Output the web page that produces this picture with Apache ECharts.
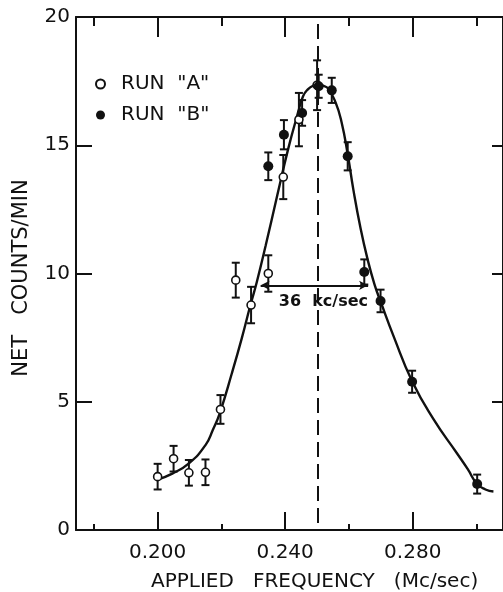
<!DOCTYPE html>
<html>
<head>
<meta charset="utf-8">
<script src="https://cdn.jsdelivr.net/npm/echarts@6/dist/echarts.min.js"></script>
<style>
  html, body { margin: 0; padding: 0; background: #fff; }
  #chart { width: 503px; height: 592px; }
</style>
</head>
<body>
<div id="chart"></div>
<script>
// run "A" (open circles): frequency, counts, error
const runAFreq = [0.2000, 0.2050, 0.2098, 0.2150, 0.2197, 0.2245, 0.2293, 0.2347, 0.2394, 0.2443, 0.2500];
const runACounts = [2.08, 2.78, 2.23, 2.25, 4.70, 9.74, 8.77, 10.00, 13.76, 16.00, 17.34];
const runAErr = [0.50, 0.50, 0.50, 0.50, 0.56, 0.68, 0.71, 0.71, 0.86, 1.04, 0.97];

// run "B" (filled circles)
const runBFreq = [0.2347, 0.2396, 0.2453, 0.2505, 0.2546, 0.2596, 0.2648, 0.2699, 0.2798, 0.3002];
const runBCounts = [14.18, 15.41, 16.26, 17.30, 17.14, 14.57, 10.06, 8.93, 5.78, 1.79];
const runBErr = [0.54, 0.57, 0.50, 0.45, 0.49, 0.55, 0.49, 0.44, 0.43, 0.37];

// fitted curve
const curveFreq = [0.1996, 0.2046, 0.2099, 0.2150, 0.2173, 0.2195, 0.2233, 0.2264, 0.2291, 0.2310, 0.2339,
  0.2375, 0.2409, 0.2440, 0.2456, 0.2471, 0.2487, 0.2503, 0.2518, 0.2534, 0.2558, 0.2577,
  0.2596, 0.2614, 0.2636, 0.2658, 0.2680, 0.2700, 0.2741, 0.2798, 0.2865, 0.2938, 0.2972,
  0.3002, 0.3028, 0.3053];
const curveCounts = [1.95, 2.20, 2.61, 3.31, 3.90, 4.56, 6.12, 7.48, 8.77, 9.62, 11.10,
  13.04, 14.84, 16.26, 16.91, 17.18, 17.32, 17.36, 17.32, 17.22, 16.67, 15.89,
  14.65, 13.25, 11.78, 10.57, 9.58, 8.88, 7.52, 5.80, 4.32, 3.00, 2.38,
  1.79, 1.58, 1.50];

const majorTicks = [0.200, 0.240, 0.280];
const minorTicks = [0.180, 0.220, 0.260, 0.300];
const centerFreq = 0.2502;
const halfWidth = [0.2323, 0.2660, 9.54];

const XMIN = 0.1744;
const XMAX = 0.3083;
const INK = '#111';
const FONT = 'DejaVu Sans';

const zip = (xs, ys) => xs.map((x, i) => [x, ys[i]]);
const errData = (xs, ys, es) => xs.map((x, i) => [x, ys[i] - es[i], ys[i] + es[i]]);

function errorBar(params, api) {
  const top = api.coord([api.value(0), api.value(2)]);
  const bot = api.coord([api.value(0), api.value(1)]);
  const w = 4;
  const style = { stroke: INK, lineWidth: 2 };
  return {
    type: 'group',
    children: [
      { type: 'line', shape: { x1: top[0], y1: top[1], x2: bot[0], y2: bot[1] }, style },
      { type: 'line', shape: { x1: top[0] - w, y1: top[1], x2: top[0] + w, y2: top[1] }, style },
      { type: 'line', shape: { x1: bot[0] - w, y1: bot[1], x2: bot[0] + w, y2: bot[1] }, style }
    ]
  };
}

const xBase = { type: 'value', min: XMIN, max: XMAX, splitLine: { show: false } };

const chart = echarts.init(document.getElementById('chart'));
chart.setOption({
  backgroundColor: '#fff',
  animation: false,
  grid: { left: 76, right: -4, top: 17, bottom: 62 },
  legend: {
    orient: 'vertical',
    left: 90,
    top: 69,
    itemGap: 11,
    itemWidth: 9,
    itemHeight: 9,
    textStyle: { fontFamily: FONT, fontSize: 20, color: INK, padding: [0, 0, 0, 11] },
    data: ['RUN  "A"', 'RUN  "B"']
  },
  xAxis: [
    Object.assign({}, xBase, {
      position: 'bottom',
      axisLine: { show: true, lineStyle: { color: INK, width: 2 } },
      axisTick: { show: true, inside: true, length: 18, customValues: majorTicks, lineStyle: { color: INK, width: 2 } },
      axisLabel: {
        show: true, customValues: majorTicks, margin: 13,
        fontFamily: FONT, fontSize: 20, color: INK,
        formatter: v => v.toFixed(3)
      }
    }),
    Object.assign({}, xBase, {
      position: 'bottom',
      axisLine: { show: false },
      axisTick: { show: true, inside: true, length: 6, customValues: minorTicks, lineStyle: { color: INK, width: 2 } },
      axisLabel: { show: false }
    }),
    Object.assign({}, xBase, {
      position: 'top',
      axisLine: { show: true, lineStyle: { color: INK, width: 2 } },
      axisTick: { show: true, inside: true, length: 20, customValues: majorTicks, lineStyle: { color: INK, width: 2 } },
      axisLabel: { show: false }
    }),
    Object.assign({}, xBase, {
      position: 'top',
      axisLine: { show: false },
      axisTick: { show: true, inside: true, length: 9, customValues: minorTicks, lineStyle: { color: INK, width: 2 } },
      axisLabel: { show: false }
    })
  ],
  yAxis: [
    {
      type: 'value', position: 'left', min: 0, max: 20, interval: 5,
      splitLine: { show: false },
      axisLine: { show: true, lineStyle: { color: INK, width: 2 } },
      axisTick: { show: true, inside: true, length: 16, lineStyle: { color: INK, width: 2 } },
      axisLabel: { margin: 6, fontFamily: FONT, fontSize: 20, color: INK }
    },
    {
      type: 'value', position: 'right', min: 0, max: 20, interval: 5,
      splitLine: { show: false },
      axisLine: { show: true, lineStyle: { color: INK, width: 2 } },
      axisTick: { show: true, inside: true, length: 11, lineStyle: { color: INK, width: 2 } },
      axisLabel: { show: false }
    }
  ],
  graphic: [
    {
      type: 'text', left: 151, top: 572,
      style: { text: 'APPLIED   FREQUENCY   (Mc/sec)', fontFamily: FONT, fontSize: 20, fill: INK }
    },
    {
      type: 'text', x: 11, y: 278, rotation: Math.PI / 2,
      style: {
        text: 'NET   COUNTS/MIN', fontFamily: FONT, fontSize: 21, fill: INK,
        align: 'center', verticalAlign: 'top'
      }
    }
  ],
  series: [
    {
      name: 'fit',
      type: 'line',
      smooth: 0.5,
      showSymbol: false,
      silent: true,
      data: zip(curveFreq, curveCounts),
      lineStyle: { color: INK, width: 2.4 },
      z: 2,
      markLine: {
        silent: true,
        animation: false,
        data: [
          [
            { coord: [centerFreq, 0.27], symbol: 'none' },
            { coord: [centerFreq, 20], symbol: 'none' }
          ],
          [
            { coord: [halfWidth[0], halfWidth[2]], symbol: 'arrow', symbolSize: [7, 9] },
            {
              coord: [halfWidth[1], halfWidth[2]], symbol: 'arrow', symbolSize: [7, 9],
              lineStyle: { type: 'solid', width: 2 },
              label: {
                show: true, position: 'insideMiddleBottom', distance: 9,
                formatter: '36  kc/sec', offset: [9, 0],
                fontFamily: FONT, fontSize: 16, fontWeight: 'bold', color: INK
              }
            }
          ]
        ],
        lineStyle: { color: INK, width: 2, type: [15, 7] },
        label: { show: false }
      }
    },
    {
      name: 'errA',
      type: 'custom',
      renderItem: errorBar,
      data: errData(runAFreq, runACounts, runAErr),
      z: 3
    },
    {
      name: 'errB',
      type: 'custom',
      renderItem: errorBar,
      data: errData(runBFreq, runBCounts, runBErr),
      z: 3
    },
    {
      name: 'RUN  "A"',
      type: 'scatter',
      symbol: 'circle',
      symbolSize: 8,
      data: zip(runAFreq, runACounts),
      itemStyle: { color: '#fff', borderColor: INK, borderWidth: 1.6, opacity: 1 },
      z: 4
    },
    {
      name: 'RUN  "B"',
      type: 'scatter',
      symbol: 'circle',
      symbolSize: 10,
      data: zip(runBFreq, runBCounts),
      itemStyle: { color: INK, opacity: 1 },
      z: 5
    }
  ]
});
</script>
</body>
</html>
